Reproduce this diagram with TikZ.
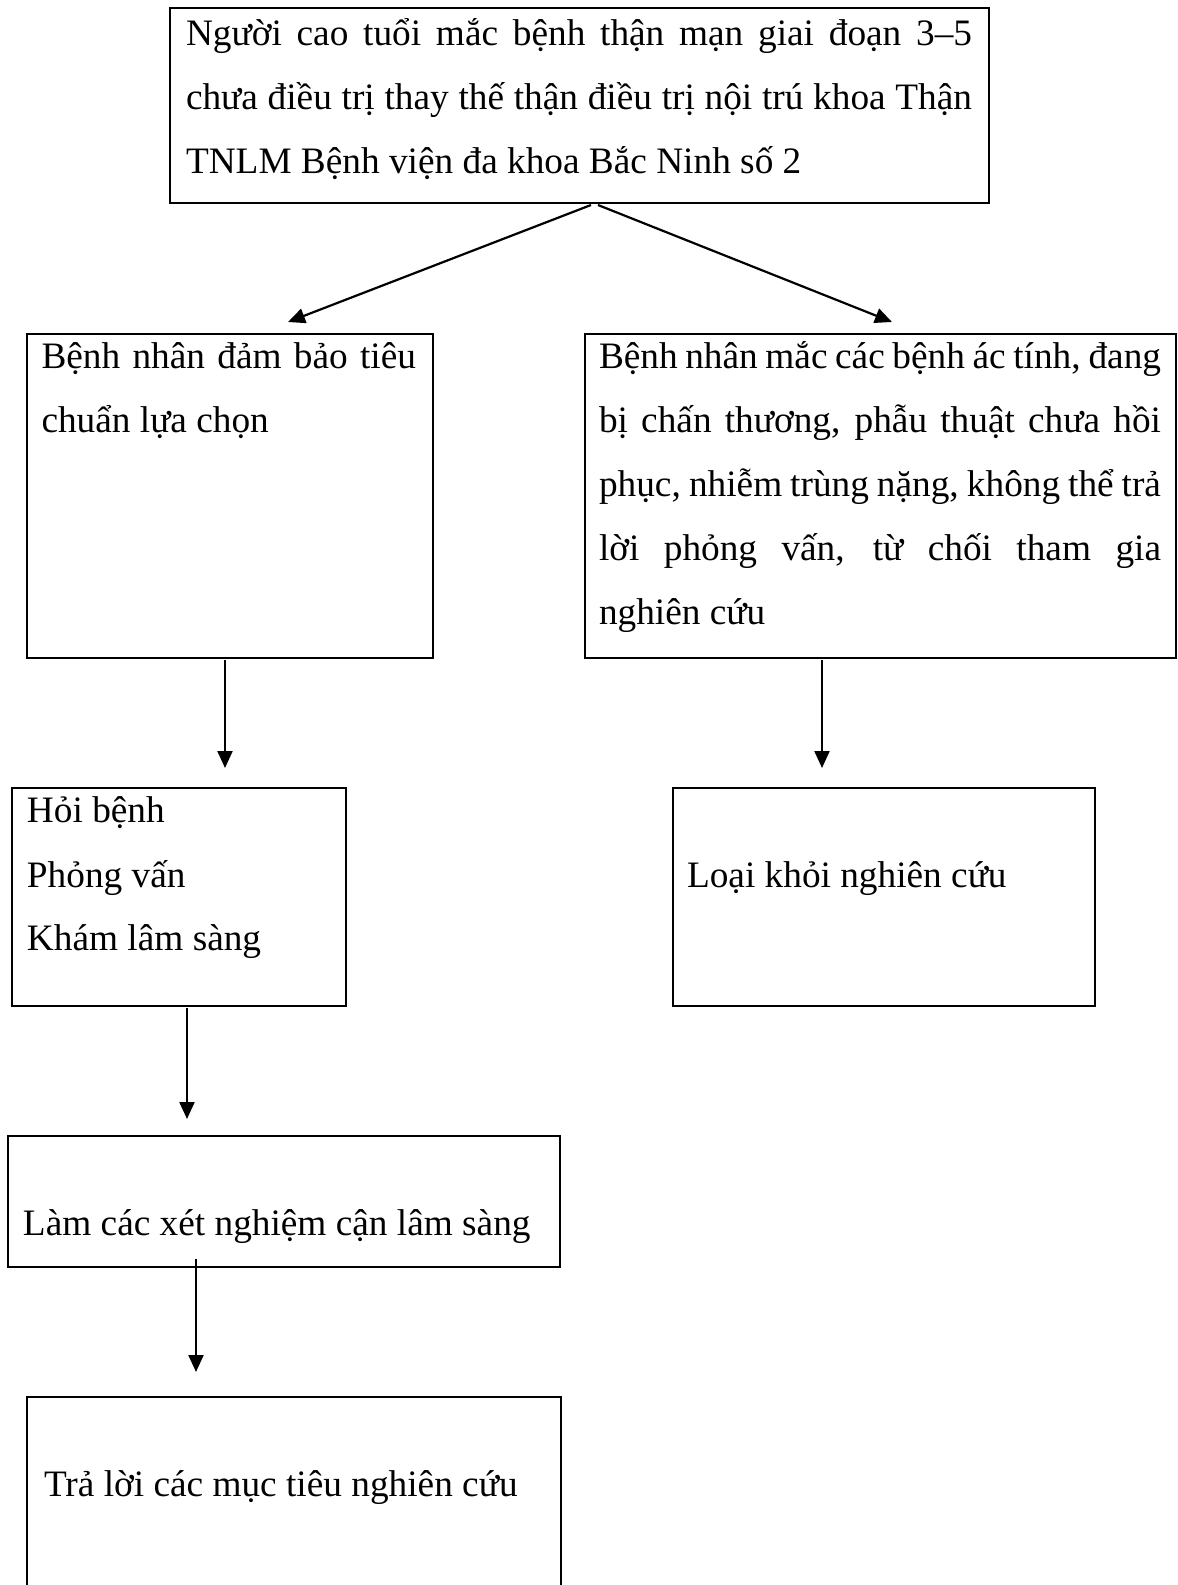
\documentclass[tikz,border=0pt]{standalone}
\usepackage{fontspec}
\setmainfont{Liberation Serif}
\usetikzlibrary{arrows.meta}
\tikzset{
  box/.style={draw=black, line width=2.3pt, rectangle, anchor=north west, inner sep=0pt, outer sep=0pt},
  txt/.style={anchor=base west, inner sep=0pt, outer sep=0pt, font=\fontsize{37.3pt}{64pt}\selectfont},
  conn/.style={draw=black, line width=2.2pt, -{Triangle[length=17pt,width=15pt]}}
}
\begin{document}
\begin{tikzpicture}[x=1pt,y=-1pt]
\useasboundingbox (0,0) rectangle (1178,1585);
\clip (0,0) rectangle (1178,1585);
\fill[white] (0,0) rectangle (1178,1585);

% boxes
\node[box, minimum width=819pt, minimum height=195pt] (top) at (170,8) {};
\node[box, minimum width=406pt, minimum height=324pt] (sel) at (27,334) {};
\node[box, minimum width=591pt, minimum height=324pt] (exc) at (585,334) {};
\node[box, minimum width=334pt, minimum height=218pt] (ask) at (12,788) {};
\node[box, minimum width=422pt, minimum height=218pt] (out) at (673,788) {};
\node[box, minimum width=552pt, minimum height=131pt] (lab) at (8,1136) {};
\node[box, minimum width=534pt, minimum height=260pt] (ans) at (27,1397) {};

% texts
\node[txt] (t1) at (186,45) {\makebox[786pt][s]{Người cao tuổi mắc bệnh thận mạn giai đoạn 3–5}};
\node[txt] (t2) at (186,109) {\makebox[786pt][s]{chưa điều trị thay thế thận điều trị nội trú khoa Thận}};
\node[txt] (t3) at (186,173) {TNLM Bệnh viện đa khoa Bắc Ninh số 2};

\node[txt] (s1) at (41.5,368) {\makebox[374.5pt][s]{Bệnh nhân đảm bảo tiêu}};
\node[txt] (s2) at (41.5,432) {chuẩn lựa chọn};

\node[txt] (e1) at (599,368) {\makebox[562pt][s]{Bệnh nhân mắc các bệnh ác tính, đang}};
\node[txt] (e2) at (599,432) {\makebox[562pt][s]{bị chấn thương, phẫu thuật chưa hồi}};
\node[txt] (e3) at (599,496) {\makebox[562pt][s]{phục, nhiễm trùng nặng, không thể trả}};
\node[txt] (e4) at (599,560) {\makebox[562pt][s]{lời phỏng vấn, từ chối tham gia}};
\node[txt] (e5) at (599,624) {nghiên cứu};

\node[txt] (a1) at (27,822) {Hỏi bệnh};
\node[txt] (a2) at (27,887) {Phỏng vấn};
\node[txt] (a3) at (27,950) {Khám lâm sàng};

\node[txt] (o1) at (687,887) {Loại khỏi nghiên cứu};

\node[txt] (l1) at (23,1235) {Làm các xét nghiệm cận lâm sàng};

\node[txt] (r1) at (44,1496) {Trả lời các mục tiêu nghiên cứu};

% connector end points
\coordinate (c1s) at (591,205);
\coordinate (c1e) at (288,322);
\coordinate (c2s) at (598,205);
\coordinate (c2e) at (892,322);
\coordinate (c3s) at (225,660);
\coordinate (c3e) at (225,768);
\coordinate (c4s) at (822,660);
\coordinate (c4e) at (822,768);
\coordinate (c5s) at (187,1008);
\coordinate (c5e) at (187,1119);
\coordinate (c6s) at (196,1259);
\coordinate (c6e) at (196,1372);

\draw[conn] (c1s) -- (c1e);
\draw[conn] (c2s) -- (c2e);
\draw[conn] (c3s) -- (c3e);
\draw[conn] (c4s) -- (c4e);
\draw[conn] (c5s) -- (c5e);
\draw[conn] (c6s) -- (c6e);
\end{tikzpicture}
\end{document}
